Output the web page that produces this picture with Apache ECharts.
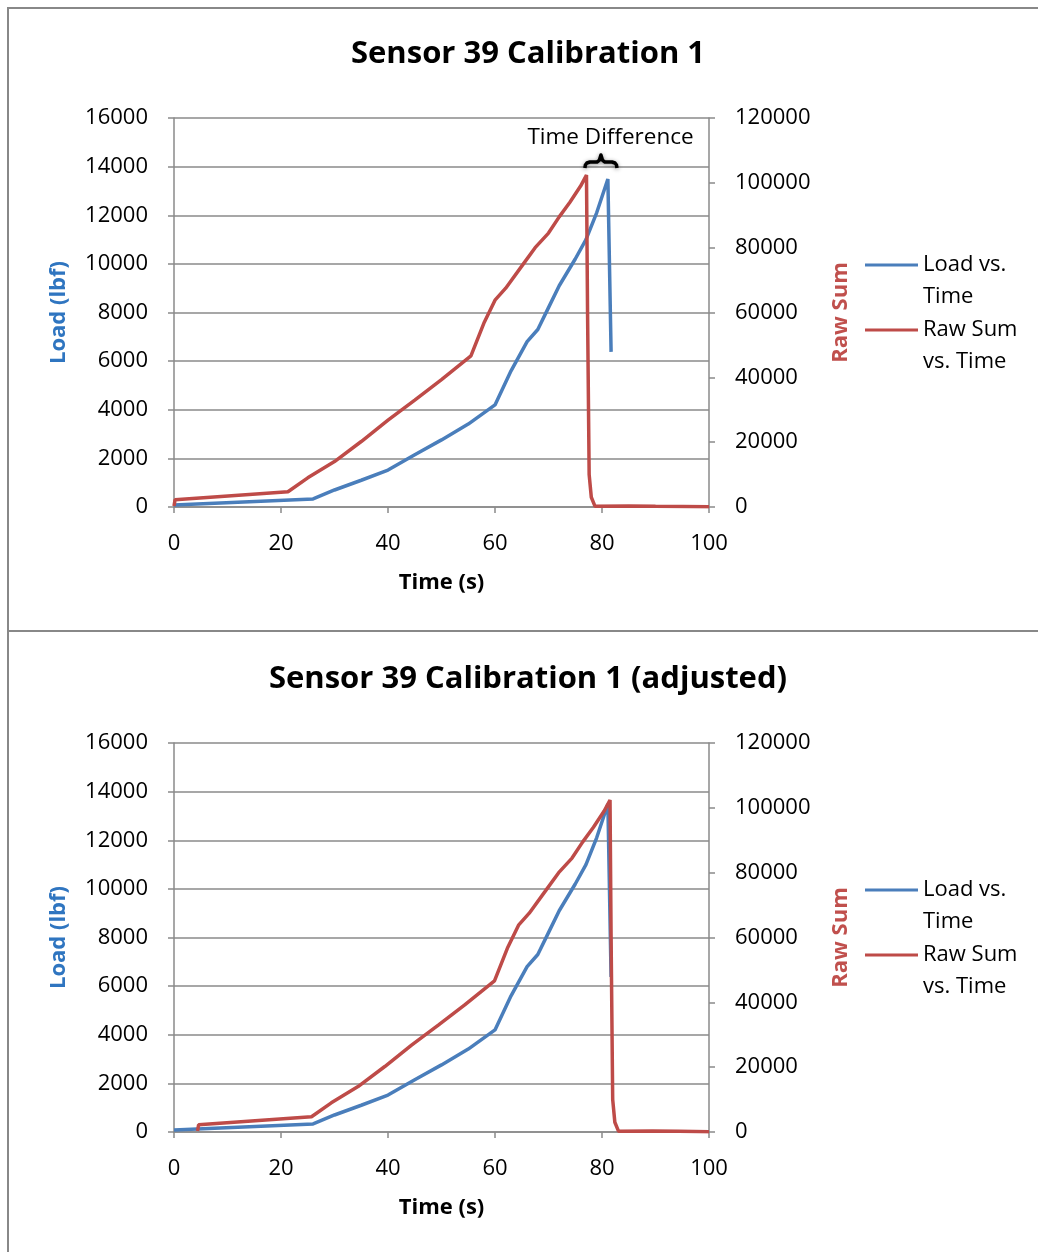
<!DOCTYPE html>
<html>
<head>
<meta charset="utf-8">
<script src="https://cdn.jsdelivr.net/npm/echarts@6/dist/echarts.min.js"></script>
<style>
html,body{margin:0;padding:0;background:#fff;}
#c{width:1038px;height:1252px;}
</style>
</head>
<body>
<div id="c"></div>
<script>
// ---- data ----
const titles = ['Sensor 39 Calibration 1', 'Sensor 39 Calibration 1 (adjusted)'];
const seriesNames = ['Load vs. Time', 'Raw Sum vs. Time'];
const legendLabels = ['Load vs.\nTime', 'Raw Sum\nvs. Time'];

// Load (lbf) vs time (s)
const loadTime = [0, 26, 30, 35, 40, 45, 50, 55, 60, 63, 66, 68, 70, 72, 75, 77, 79, 81.1, 81.7];
const loadVals = [80, 330, 700, 1100, 1520, 2150, 2760, 3410, 4200, 5600, 6800, 7300, 8200, 9100, 10200, 11000, 12100, 13490, 6380];

// Raw Sum vs time (original)
const rawTime = [0, 0.2, 21.3, 25, 30, 35, 40, 45, 50, 55.5, 58, 60, 62, 65, 67.5, 70, 72, 74, 76, 77.1, 77.3, 77.6, 78.0, 78.7, 85, 90, 100];
const rawVals = [300, 2200, 4700, 9000, 14000, 20200, 26800, 33000, 39300, 46600, 57000, 63800, 67500, 74300, 80000, 84500, 89500, 94000, 99000, 102400, 60000, 10000, 3000, 200, 300, 200, 100];

// Raw Sum vs time (adjusted)
const rawTimeAdj = [4.4, 4.6, 25.7, 29.4, 34.4, 39.4, 44.4, 49.4, 54.4, 59.9, 62.4, 64.4, 66.4, 69.4, 71.9, 74.4, 76.4, 78.4, 80.4, 81.5, 81.7, 82.0, 82.4, 83.1, 89.4, 94.4, 100];
const rawValsAdj = [300, 2200, 4700, 9000, 14000, 20200, 26800, 33000, 39300, 46600, 57000, 63800, 67500, 74300, 80000, 84500, 89500, 94000, 99000, 102400, 60000, 10000, 3000, 200, 300, 200, 100];

const xTicks = {min: 0, max: 100, interval: 20};
const loadTicks = {min: 0, max: 16000, interval: 2000};
const rawTicks = {min: 0, max: 120000, interval: 20000};

// ---- styling ----
const BLUE = '#4A7EBB', RED = '#BE4B48', GRID = '#8a8a8a';
const FONT = '"Open Sans", sans-serif';
const pairs = (xs, ys) => xs.map((x, i) => [x, ys[i]]);
const plain = v => String(v);

const chart = echarts.init(document.getElementById('c'), null, {renderer: 'canvas'});
const gridTops = [118, 743];
const off = [0, 625];

const option = {
  backgroundColor: '#fff',
  animation: false,
  textStyle: {fontFamily: FONT},
  title: titles.map((t, i) => ({
    text: t, left: 528, top: 39 + off[i], textAlign: 'center', padding: 0,
    textStyle: {fontFamily: FONT, fontWeight: 'bold', fontSize: 31, color: '#000'}
  })),
  legend: [0, 1].map(i => ({
    orient: 'vertical', left: 865, top: 217 + off[i], padding: 0,
    data: seriesNames, icon: 'rect', itemWidth: 53, itemHeight: 3, itemGap: -31,
    selectedMode: false,
    formatter: n => '\n' + legendLabels[seriesNames.indexOf(n)],
    textStyle: {fontFamily: FONT, fontSize: 22, color: '#000', lineHeight: 32}
  })),
  grid: gridTops.map(t => ({left: 174, top: t, width: 535, height: 389})),
  xAxis: [0, 1].map(i => ({
    type: 'value', gridIndex: i, min: xTicks.min, max: xTicks.max, interval: xTicks.interval,
    name: 'Time (s)', nameLocation: 'middle', nameGap: 65,
    nameTextStyle: {fontFamily: FONT, fontWeight: 'bold', fontSize: 22, color: '#000'},
    axisLine: {lineStyle: {color: GRID, width: 1.5}},
    axisTick: {show: true, length: 6, lineStyle: {color: GRID, width: 1.5}},
    axisLabel: {fontFamily: FONT, fontSize: 22, color: '#000', margin: 26, formatter: plain},
    splitLine: {show: false}
  })),
  yAxis: [].concat(...[0, 1].map(i => [
    {
      type: 'value', gridIndex: i, position: 'left', min: loadTicks.min, max: loadTicks.max, interval: loadTicks.interval,
      name: 'Load (lbf)', nameLocation: 'middle', nameGap: 104, nameRotate: 90,
      nameTextStyle: {fontFamily: FONT, fontWeight: 'bold', fontSize: 22, color: '#2F75C0'},
      axisLine: {show: true, lineStyle: {color: GRID, width: 1.5}},
      axisTick: {show: true, length: 6, lineStyle: {color: GRID, width: 1.5}},
      axisLabel: {fontFamily: FONT, fontSize: 22, color: '#000', margin: 26, formatter: plain, padding: [4, 0, 0, 0]},
      splitLine: {show: true, lineStyle: {color: GRID, width: 1.5}}
    },
    {
      type: 'value', gridIndex: i, position: 'right', min: rawTicks.min, max: rawTicks.max, interval: rawTicks.interval,
      name: 'Raw Sum', nameLocation: 'middle', nameGap: 121, nameRotate: 90,
      nameTextStyle: {fontFamily: FONT, fontWeight: 'bold', fontSize: 22, color: '#C0504D'},
      axisLine: {show: true, lineStyle: {color: GRID, width: 1.5}},
      axisTick: {show: true, length: 6, lineStyle: {color: GRID, width: 1.5}},
      axisLabel: {fontFamily: FONT, fontSize: 22, color: '#000', margin: 26, formatter: plain, padding: [4, 0, 0, 0]},
      splitLine: {show: false}
    }
  ])),
  series: [
    {name: seriesNames[0], type: 'line', xAxisIndex: 0, yAxisIndex: 0, data: pairs(loadTime, loadVals),
     showSymbol: false, symbol: 'none', lineStyle: {color: BLUE, width: 3.5}, itemStyle: {color: BLUE}},
    {name: seriesNames[1], type: 'line', xAxisIndex: 0, yAxisIndex: 1, data: pairs(rawTime, rawVals),
     showSymbol: false, symbol: 'none', lineStyle: {color: RED, width: 3.5}, itemStyle: {color: RED}},
    {name: seriesNames[0], type: 'line', xAxisIndex: 1, yAxisIndex: 2, data: pairs(loadTime, loadVals),
     showSymbol: false, symbol: 'none', lineStyle: {color: BLUE, width: 3.5}, itemStyle: {color: BLUE}},
    {name: seriesNames[1], type: 'line', xAxisIndex: 1, yAxisIndex: 3, data: pairs(rawTimeAdj, rawValsAdj),
     showSymbol: false, symbol: 'none', lineStyle: {color: RED, width: 3.5}, itemStyle: {color: RED}}
  ]
};
chart.setOption(option);

// annotation: "Time Difference" brace over the two peaks (upper chart)
const pL = chart.convertToPixel({xAxisIndex: 0, yAxisIndex: 0}, [76.8, 14230]);
const pR = chart.convertToPixel({xAxisIndex: 0, yAxisIndex: 0}, [82.8, 14230]);
const pT = chart.convertToPixel({xAxisIndex: 0, yAxisIndex: 0}, [81.6, 15200]);
const w = pR[0] - pL[0], h = w / 2;
const rel = [[0, 7], [0.5, 4], [2, 2], [5, 1], [h - 4, 1], [h - 1.5, -1], [h, -6], [h + 1.5, -1], [h + 4, 1],
             [w - 5, 1], [w - 2, 2], [w - 0.5, 4], [w, 7]];
const bracePts = rel.map(p => [pL[0] + p[0], pL[1] + p[1]]);
const BORDER = '#888';
chart.setOption({
  graphic: [
    {type: 'polyline', shape: {points: bracePts},
     style: {fill: null, stroke: '#000', lineWidth: 3.5, lineJoin: 'round', shadowBlur: 4, shadowColor: 'rgba(0,0,0,0.45)', shadowOffsetY: 1}},
    {type: 'text', x: pT[0], y: pT[1], style: {text: 'Time Difference', fontFamily: FONT, fontSize: 22.5, fill: '#000', align: 'center', verticalAlign: 'middle'}},
    {type: 'line', shape: {x1: 8, y1: 8, x2: 1038, y2: 8}, style: {stroke: BORDER, lineWidth: 2}},
    {type: 'line', shape: {x1: 8, y1: 7, x2: 8, y2: 1252}, style: {stroke: BORDER, lineWidth: 2}},
    {type: 'line', shape: {x1: 8, y1: 631, x2: 1038, y2: 631}, style: {stroke: BORDER, lineWidth: 2}}
  ]
});
</script>
</body>
</html>
